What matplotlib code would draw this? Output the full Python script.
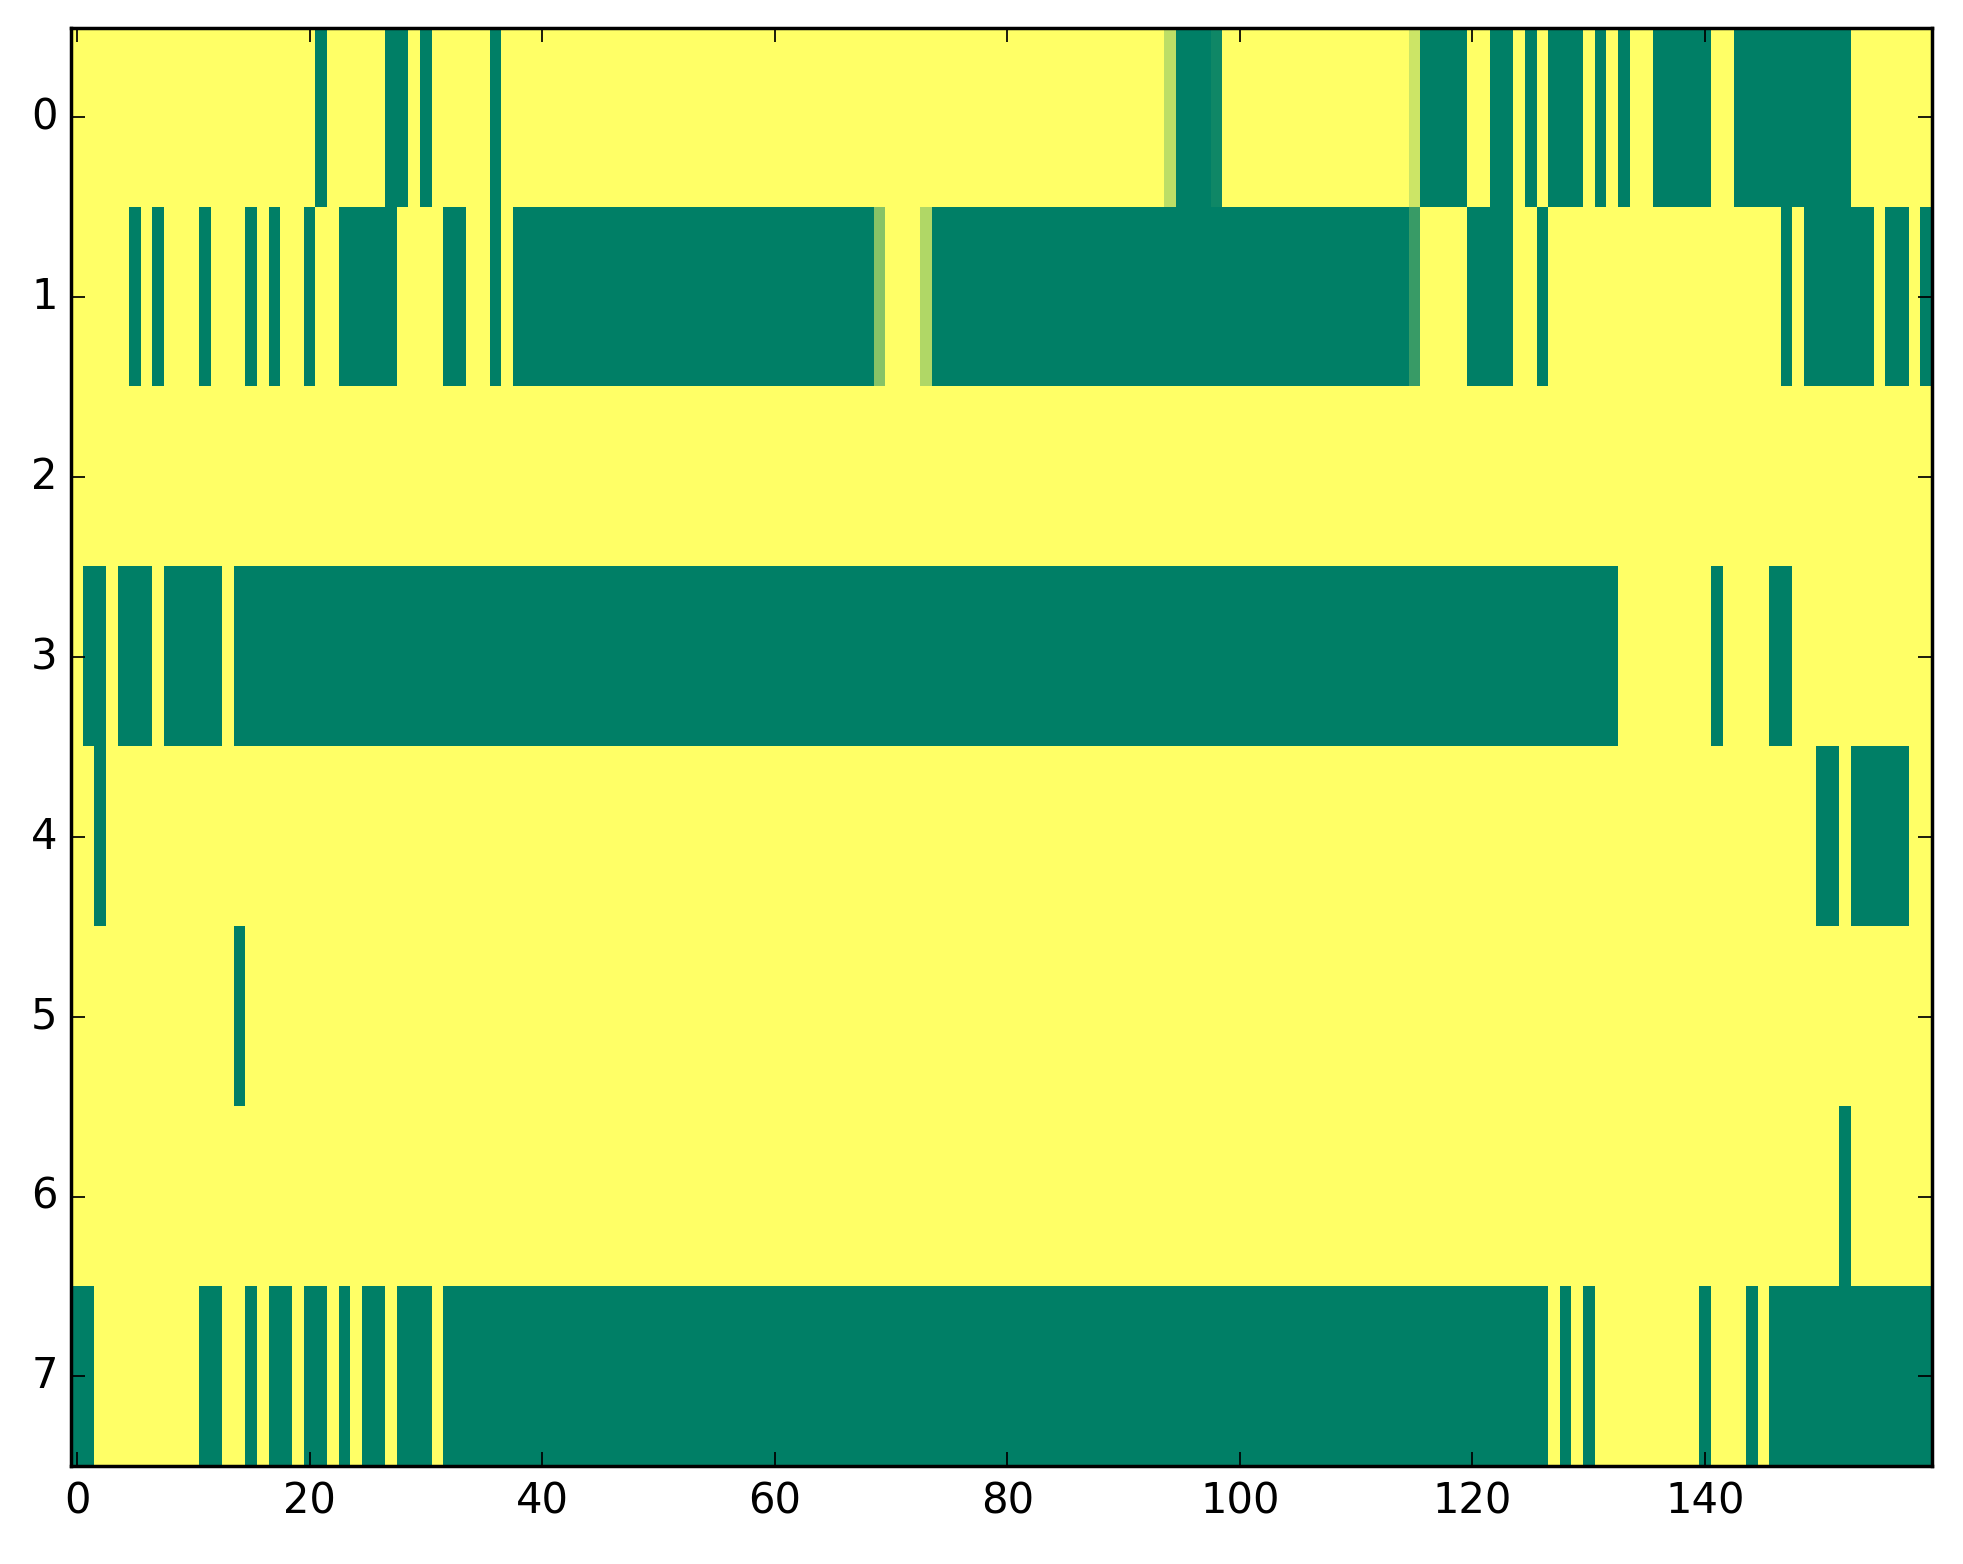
import numpy as np
import matplotlib
matplotlib.use("Agg")
import matplotlib.pyplot as plt

n_rows = 8
n_cols = 160

# Runs (inclusive column ranges) where the value is 0 (green); everything else is 1 (yellow)
row0_zero_runs = [(21, 21), (27, 28), (30, 30), (36, 36), (95, 97), (116, 119), (122, 123),
                  (125, 125), (127, 129), (131, 131), (133, 133), (136, 140), (143, 152)]
row1_zero_runs = [(5, 5), (7, 7), (11, 11), (15, 15), (17, 17), (20, 20), (23, 27), (32, 33),
                  (36, 36), (38, 68), (74, 114), (120, 123), (126, 126), (147, 147),
                  (149, 154), (156, 157), (159, 159)]
row2_zero_runs = []
row3_zero_runs = [(1, 2), (4, 6), (8, 12), (14, 132), (141, 141), (146, 147)]
row4_zero_runs = [(2, 2), (150, 151), (153, 157)]
row5_zero_runs = [(14, 14)]
row6_zero_runs = [(152, 152)]
row7_zero_runs = [(0, 1), (11, 12), (15, 15), (17, 18), (20, 21), (23, 23), (25, 26), (28, 30),
                  (32, 126), (128, 128), (130, 130), (140, 140), (144, 144), (146, 159)]

# Intermediate values (row, col, value)
partial_values = [(0, 94, 0.74), (0, 98, 0.06), (0, 115, 0.80),
                  (1, 69, 0.53), (1, 73, 0.69), (1, 115, 0.22)]

x_ticks = [0, 20, 40, 60, 80, 100, 120, 140]
y_ticks = [0, 1, 2, 3, 4, 5, 6, 7]

all_runs = [row0_zero_runs, row1_zero_runs, row2_zero_runs, row3_zero_runs,
            row4_zero_runs, row5_zero_runs, row6_zero_runs, row7_zero_runs]

data = np.ones((n_rows, n_cols))
for r, runs in enumerate(all_runs):
    for a, b in runs:
        data[r, a:b + 1] = 0.0
for r, c, v in partial_values:
    data[r, c] = v

plt.style.use("classic")
fig = plt.figure(figsize=(7.852, 6.256), dpi=250)
ax = fig.add_axes([0.0364, 0.0624, 0.9476, 0.92])
ax.imshow(data, cmap="summer", aspect="auto", interpolation="nearest", vmin=0, vmax=1)
ax.set_xticks(x_ticks)
ax.set_yticks(y_ticks)
ax.set_xlim(-0.5, n_cols - 0.5)
ax.set_ylim(n_rows - 0.5, -0.5)
fig.savefig("out.png", dpi=250)
